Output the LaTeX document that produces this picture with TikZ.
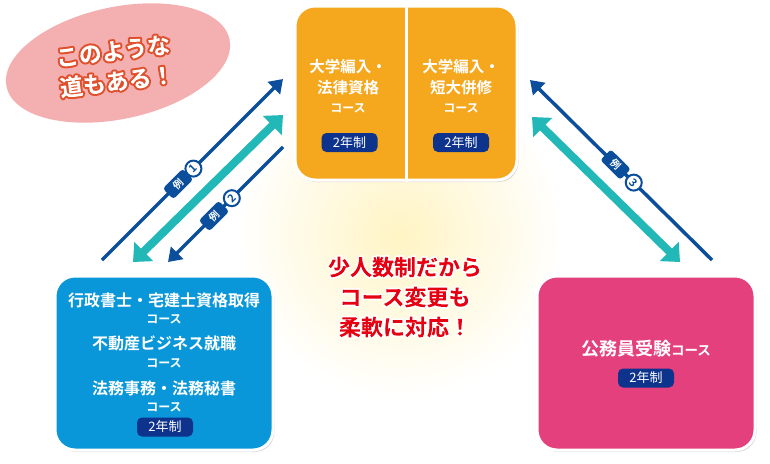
\documentclass[tikz,border=0pt]{standalone}
\usepackage{fontspec}
\setmainfont{Noto Sans CJK JP}[BoldFont={Noto Sans CJK JP Bold}]
\usetikzlibrary{arrows.meta,shapes.geometric,shadows}
\definecolor{orangebox}{HTML}{F5A81E}
\definecolor{bluebox}{HTML}{0A97D9}
\definecolor{pinkbox}{HTML}{E4407E}
\definecolor{navy}{HTML}{0E338C}
\definecolor{darkarrow}{HTML}{0B4F9C}
\definecolor{tealarrow}{HTML}{22B8B8}
\definecolor{bubblepink}{HTML}{F4AFB1}
\definecolor{redtext}{HTML}{E50012}
\definecolor{glowyellow}{HTML}{FFF4C4}
% #1 stroke colour (RG), #2 fill colour (rg), #3 stroke width, #4 font size, #5 text
\newcommand\outlinedtext[5]{{\fontsize{#4}{#4}\selectfont\special{pdf:gsave}\special{pdf:literal direct 5 Tr #3 w 1 j #1 RG}#5\special{pdf:literal direct 0 Tr #2 rg -10000 -10000 20000 20000 re f}\special{pdf:grestore}}}
\begin{document}
\begin{tikzpicture}[x=1pt,y=-1pt,
 box/.style={draw=white, line width=3pt, rounded corners=20pt,
   drop shadow={opacity=0.3,shadow xshift=1.5pt,shadow yshift=-2pt}},
 pill/.style={fill=navy, rounded corners=5pt, minimum width=56pt, minimum height=19pt,
   inner sep=0pt, text=white, font=\fontsize{13}{13}\selectfont},
 title/.style={text=white, font=\bfseries\fontsize{15.5}{16}\selectfont, inner sep=0pt},
 bigtitle/.style={text=white, font=\bfseries\fontsize{16}{16}\selectfont, inner sep=0pt},
 small/.style={text=white, font=\bfseries\fontsize{12}{12}\selectfont, inner sep=0pt},
 darrow/.style={draw=darkarrow, line width=3.5pt, -{Triangle[length=13pt,width=17pt]}},
 tarrow/.style={draw=tealarrow, line width=8pt,
   {Triangle[length=15pt,width=26pt]}-{Triangle[length=15pt,width=26pt]}},
 tagbox/.style={fill=darkarrow, rounded corners=3pt, text=white,
   font=\bfseries\fontsize{10}{10}\selectfont, minimum width=28pt, minimum height=15pt,
   inner sep=0pt, sloped},
 tagnum/.style={circle, fill=white, draw=darkarrow, line width=2pt, text=darkarrow,
   font=\bfseries\fontsize{11}{11}\selectfont, minimum size=16pt, inner sep=0pt, sloped},
]
\fill[white] (0,0) rectangle (770,463);
\useasboundingbox (0,0) rectangle (770,463);
\shade[inner color=glowyellow, outer color=white] (400,235) circle (165);

% bubble
\node[ellipse, fill=bubblepink, minimum width=228pt, minimum height=112pt, rotate=12] (bubble) at (118,63) {};

% boxes
\node[box, fill=orangebox, minimum width=222pt, minimum height=174pt] (top) at (406,93) {};
\draw[white, line width=3pt] (top.north) -- (top.south);
\node[box, fill=bluebox, minimum width=218pt, minimum height=174pt] (left) at (164,363) {};
\node[box, fill=pinkbox, minimum width=218pt, minimum height=174pt] (right) at (646,363) {};

% top box texts
\node[title] (tl1) at (348,67) {大学編入・};
\node[title] (tl2) at (348,88) {法律資格};
\node[small] (tl3) at (348,108) {コース};
\node[pill] (tlp) at (349.5,142.5) {2年制};
\node[title] (tr1) at (461,67) {大学編入・};
\node[title] (tr2) at (461,88) {短大併修};
\node[small] (tr3) at (461,108) {コース};
\node[pill] (trp) at (461,142.5) {2年制};

% bottom-left texts
\node[bigtitle] (bl1) at (164,300) {行政書士・宅建士資格取得};
\node[small] (bl2) at (164,319) {コース};
\node[bigtitle] (bl3) at (164,343) {不動産ビジネス就職};
\node[small] (bl4) at (164,363) {コース};
\node[bigtitle] (bl5) at (164,388) {法務事務・法務秘書};
\node[small] (bl6) at (164,407) {コース};
\node[pill] (blp) at (165,427) {2年制};

% bottom-right texts
\node[text=white, font=\bfseries, inner sep=0pt] (br1) at (646,349)
  {{\fontsize{18}{18}\selectfont 公務員受験}{\fontsize{13.5}{13.5}\selectfont コース}};
\node[pill] (brp) at (646,378) {2年制};

% arrows
\coordinate (a1s) at (102,260); \coordinate (a1e) at (283,79);
\coordinate (t1s) at (133,262); \coordinate (t1e) at (283,115);
\coordinate (a2s) at (283,147); \coordinate (a2e) at (168,262);
\coordinate (a3s) at (712,260); \coordinate (a3e) at (530,80);
\coordinate (t2s) at (532,117); \coordinate (t2e) at (680,262);

\draw[tarrow] (t1s) -- (t1e);
\draw[tarrow] (t2s) -- (t2e);
\draw[darrow] (a1s) -- (a1e)
  node[tagbox, pos=0.42] (ex1) {例} node[tagnum, pos=0.505] (n1) {1};
\draw[darrow] (a2s) -- (a2e)
  node[tagbox, pos=0.60] (ex2) {例} node[tagnum, pos=0.445] (n2) {2};
\draw[darrow] (a3s) -- (a3e)
  node[tagbox, pos=0.53] (ex3) {例} node[tagnum, pos=0.43] (n3) {3};

% centre message (white outline)
\node[text=redtext, font=\bfseries, align=center, inner sep=0pt] (flex1) at (405,267)
  {\outlinedtext{1 1 1}{0.898 0 0.071}{3.5}{22}{少人数制だから}};
\node[text=redtext, font=\bfseries, align=center, inner sep=0pt] (flex2) at (405,297)
  {\outlinedtext{1 1 1}{0.898 0 0.071}{3.5}{22.01}{コース変更も}};
\node[text=redtext, font=\bfseries, align=center, inner sep=0pt] (flex3) at (405,327)
  {\outlinedtext{1 1 1}{0.898 0 0.071}{3.5}{22.02}{柔軟に対応！}};

% bubble text (orange outline)
\node[text=white, font=\bfseries, rotate=7, inner sep=0pt] (slogan1) at (113,51)
  {\outlinedtext{0.878 0.314 0.173}{1 1 1}{4}{23}{このような}};
\node[text=white, font=\bfseries, rotate=7, inner sep=0pt] (slogan2) at (117,81)
  {\outlinedtext{0.878 0.314 0.173}{1 1 1}{4}{23.01}{道もある！}};
\end{tikzpicture}
\end{document}
